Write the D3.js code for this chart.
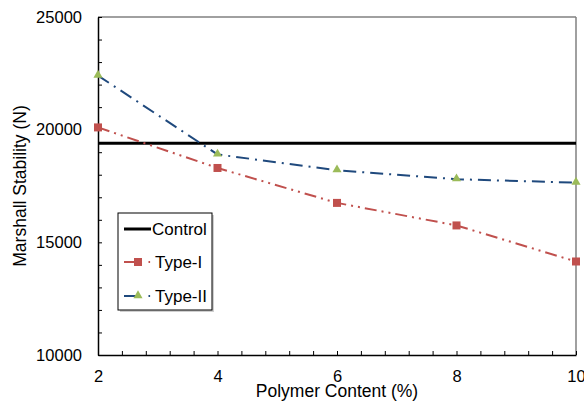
<!DOCTYPE html>
<html>
<head>
<meta charset="utf-8">
<script src="https://cdn.jsdelivr.net/npm/d3@7"></script>
<style>
  html, body { margin: 0; padding: 0; background: #fff; }
  svg { display: block; font-family: "Liberation Sans", Arial, sans-serif; }
</style>
</head>
<body>
<svg width="584" height="407"></svg>
<script>
// data
let polymer = [2, 4, 6, 8, 10]
let control = 19400
let typeI = [20100, 18300, 16750, 15750, 14150]
let typeII = [22400, 18900, 18200, 17800, 17650]
let yMajor = [10000, 15000, 20000, 25000]
let xMajor = [2, 4, 6, 8, 10]

let svg = d3.select('svg')
let plotL = 98, plotR = 576, plotT = 17, plotB = 355

let x = d3.scaleLinear().domain([2, 10]).range([plotL, plotR])
let y = d3.scaleLinear().domain([10000, 25000]).range([plotB, plotT])

// frame: top & right in grey
svg.append('line').attr('x1', plotL).attr('x2', plotR).attr('y1', plotT).attr('y2', plotT)
   .attr('stroke', '#808080').attr('stroke-width', 1.5)
svg.append('line').attr('x1', plotR).attr('x2', plotR).attr('y1', plotT).attr('y2', plotB)
   .attr('stroke', '#808080').attr('stroke-width', 1.5)

// y axis, minor every 1000, inward ticks
let yAxis = d3.axisLeft(y)
  .tickValues(d3.range(10000, 25001, 1000))
  .tickSizeInner(-4).tickSizeOuter(0).tickPadding(16)
  .tickFormat(d => yMajor.includes(d) ? d : '')
let gy = svg.append('g').attr('transform', 'translate(' + plotL + ',0)').call(yAxis)

// x axis, minor every 0.4
let xAxis = d3.axisBottom(x)
  .tickValues(d3.range(0, 21).map(i => 2 + i * 0.4))
  .tickSizeInner(-4).tickSizeOuter(0).tickPadding(15)
  .tickFormat(d => {
    let r = Math.round(d)
    return (Math.abs(d - r) < 1e-6 && xMajor.includes(r)) ? r : ''
  })
let gx = svg.append('g').attr('transform', 'translate(0,' + plotB + ')').call(xAxis)

svg.selectAll('.domain').attr('stroke', '#000').attr('stroke-width', 1.5)
svg.selectAll('.tick line').attr('stroke', '#000').attr('stroke-width', 1)
svg.selectAll('.tick text').attr('font-size', 16.5).attr('fill', '#000')
   .attr('font-family', '"Liberation Sans", Arial, sans-serif')

// axis titles
svg.append('text').attr('x', 337).attr('y', 397).attr('text-anchor', 'middle')
   .attr('font-size', 17.5).text('Polymer Content (%)')
svg.append('text').attr('transform', 'translate(26,' + ((plotT + plotB) / 2) + ') rotate(-90)')
   .attr('text-anchor', 'middle').attr('font-size', 17.5).text('Marshall Stability (N)')

// control line
svg.append('line').attr('x1', x(2)).attr('x2', x(10))
   .attr('y1', y(control)).attr('y2', y(control))
   .attr('stroke', '#000').attr('stroke-width', 3)

let line = d3.line().x((d, i) => x(polymer[i])).y(d => y(d))

svg.append('path').datum(typeI).attr('d', line)
   .attr('fill', 'none').attr('stroke', '#C0504D').attr('stroke-width', 2)
   .attr('stroke-dasharray', '12,5,2,5,2,5')
svg.append('path').datum(typeII).attr('d', line)
   .attr('fill', 'none').attr('stroke', '#1F497D').attr('stroke-width', 2)
   .attr('stroke-dasharray', '13,6,2,6')

svg.selectAll('rect.t1').data(typeI).enter().append('rect').attr('class', 't1')
   .attr('x', (d, i) => x(polymer[i]) - 4).attr('y', d => y(d) - 4)
   .attr('width', 8).attr('height', 8).attr('fill', '#C0504D')

let tri = d3.symbol().type(d3.symbolTriangle).size(36)
svg.selectAll('path.t2').data(typeII).enter().append('path').attr('class', 't2')
   .attr('d', tri)
   .attr('transform', (d, i) => 'translate(' + x(polymer[i]) + ',' + (y(d) - 0.5) + ')')
   .attr('fill', '#9BBB59')

// legend
let lg = svg.append('g')
lg.append('rect').attr('x', 120).attr('y', 215).attr('width', 94).attr('height', 97)
  .attr('fill', '#b0b0b0').attr('opacity', 0.6)
lg.append('rect').attr('x', 118).attr('y', 213).attr('width', 94).attr('height', 97)
  .attr('fill', '#fff').attr('stroke', '#000').attr('stroke-width', 1)

let items = [
  { name: 'Control', color: '#000', y: 229 },
  { name: 'Type-I', color: '#C0504D', y: 262 },
  { name: 'Type-II', color: '#1F497D', y: 296 }
]
items.forEach((it, i) => {
  if (i === 0) {
    lg.append('line').attr('x1', 124).attr('x2', 151).attr('y1', it.y).attr('y2', it.y)
      .attr('stroke', '#000').attr('stroke-width', 3)
  } else {
    lg.append('line').attr('x1', 124).attr('x2', 140).attr('y1', it.y).attr('y2', it.y)
      .attr('stroke', it.color).attr('stroke-width', 2)
    lg.append('rect').attr('x', 148.5).attr('y', it.y - 1).attr('width', 1.6).attr('height', 2)
      .attr('fill', it.color)
  }
  if (i === 1) {
    lg.append('rect').attr('x', 134).attr('y', it.y - 4).attr('width', 8).attr('height', 8)
      .attr('fill', '#C0504D')
  }
  if (i === 2) {
    lg.append('path').attr('d', tri).attr('transform', 'translate(138,' + (it.y - 0.5) + ')')
      .attr('fill', '#9BBB59')
  }
  lg.append('text').attr('x', i === 0 ? 152 : 155).attr('y', it.y + 6)
    .attr('font-size', 17).text(it.name)
})
</script>
</body>
</html>
